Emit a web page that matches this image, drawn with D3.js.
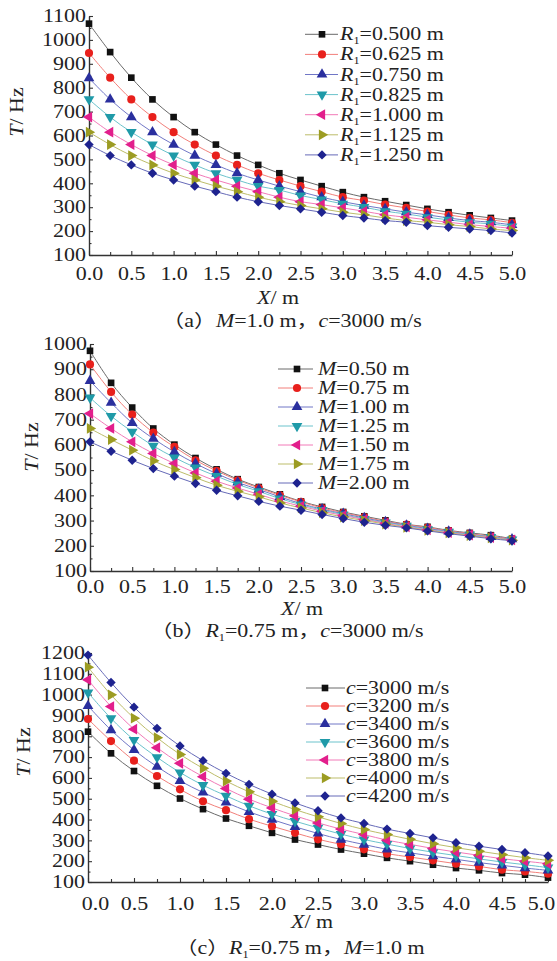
<!DOCTYPE html>
<html>
<head>
<meta charset="utf-8">
<script src="https://cdn.jsdelivr.net/npm/d3@7"></script>
<style>
  body { margin: 0; background: #fff; }
  svg { display: block; }
  text { font-family: "Liberation Serif", "Times New Roman", "Noto Sans CJK SC", serif; fill: #222; }
</style>
</head>
<body>
<div id="chart"></div>
<script>
// distance along the pipe (m), same for all three panels
const xValues = [0, 0.25, 0.5, 0.75, 1, 1.25, 1.5, 1.75, 2, 2.25, 2.5, 2.75, 3, 3.25, 3.5, 3.75, 4, 4.25, 4.5, 4.75, 5];
const xTicks = [0, 0.5, 1, 1.5, 2, 2.5, 3, 3.5, 4, 4.5, 5];
const xMinorTicks = [0.25, 0.75, 1.25, 1.75, 2.25, 2.75, 3.25, 3.75, 4.25, 4.75];

// (a) M=1.0 m, c=3000 m/s, varying R1
const labelsA = ['0.500', '0.625', '0.750', '0.825', '1.000', '1.125', '1.250'];
const valuesA = [
  [1068, 949, 842, 751, 677, 614, 562, 516, 477, 442, 414, 388, 363, 342, 325, 309, 293, 279, 266, 255, 244],
  [945, 842, 751, 677, 614, 562, 516, 477, 442, 414, 388, 365, 342, 328, 311, 297, 282, 268, 255, 247, 235],
  [840, 751, 677, 614, 562, 516, 477, 442, 414, 388, 365, 342, 323, 307, 293, 279, 268, 255, 244, 237, 226],
  [751, 677, 614, 562, 516, 477, 442, 414, 388, 372, 349, 332, 314, 300, 283, 272, 258, 247, 237, 230, 219],
  [677, 614, 562, 516, 477, 442, 414, 388, 365, 342, 323, 311, 297, 283, 268, 258, 247, 237, 227, 219, 212],
  [614, 562, 516, 477, 442, 414, 388, 365, 342, 323, 307, 293, 279, 268, 255, 244, 237, 227, 219, 209, 202],
  [562, 516, 477, 442, 414, 388, 365, 342, 323, 307, 293, 279, 265, 255, 244, 237, 223, 216, 209, 202, 192]
];
const yTicksA = [100, 200, 300, 400, 500, 600, 700, 800, 900, 1000, 1100];

// (b) R1=0.75 m, c=3000 m/s, varying M
const labelsB = ['0.50', '0.75', '1.00', '1.25', '1.50', '1.75', '2.00'];
const valuesB = [
  [973, 846, 748, 665, 601, 548, 503, 464, 433, 404, 376, 354, 334, 317, 301, 285, 275, 261, 251, 242, 228],
  [919, 810, 720, 649, 592, 539, 497, 460, 429, 400, 374, 350, 331, 314, 297, 284, 272, 259, 248, 238, 227],
  [854, 767, 687, 625, 572, 526, 486, 451, 423, 394, 367, 345, 327, 310, 294, 281, 268, 257, 245, 235, 226],
  [787, 714, 652, 596, 550, 510, 476, 443, 416, 387, 363, 341, 324, 306, 292, 279, 265, 255, 244, 234, 224],
  [724, 665, 612, 566, 526, 489, 456, 429, 404, 378, 357, 337, 320, 304, 289, 275, 263, 252, 242, 232, 223],
  [665, 621, 579, 537, 502, 470, 440, 416, 394, 370, 350, 331, 314, 300, 286, 273, 261, 251, 240, 231, 222],
  [612, 575, 539, 506, 476, 447, 420, 398, 376, 357, 341, 324, 308, 293, 281, 271, 259, 248, 238, 228, 220]
];
const yTicksB = [100, 200, 300, 400, 500, 600, 700, 800, 900, 1000];

// (c) R1=0.75 m, M=1.0 m, varying c
const labelsC = ['3000', '3200', '3400', '3600', '3800', '4000', '4200'];
const valuesC = [
  [822, 718, 633, 562, 501, 450, 405, 370, 336, 304, 280, 256, 236, 216, 200, 183, 167, 156, 143, 135, 121],
  [883, 777, 683, 609, 545, 488, 445, 402, 368, 336, 305, 281, 257, 236, 220, 204, 188, 175, 159, 151, 140],
  [946, 830, 734, 654, 586, 530, 482, 437, 400, 365, 333, 304, 280, 257, 240, 224, 209, 193, 180, 167, 156],
  [1010, 886, 782, 699, 626, 565, 514, 466, 426, 392, 360, 330, 304, 282, 261, 243, 227, 211, 196, 183, 169],
  [1071, 943, 834, 745, 670, 606, 549, 498, 456, 418, 384, 354, 328, 301, 281, 261, 244, 228, 212, 200, 188],
  [1132, 999, 887, 793, 713, 646, 585, 533, 488, 448, 413, 381, 352, 328, 305, 284, 265, 248, 232, 217, 204],
  [1190, 1058, 940, 838, 753, 683, 622, 569, 522, 480, 442, 408, 381, 354, 333, 312, 289, 272, 256, 241, 225]
];
const yTicksC = [100, 200, 300, 400, 500, 600, 700, 800, 900, 1000, 1100, 1200];

const markerColors = ['#111111', '#e8201c', '#2a2f9e', '#1f9aa8', '#e21f8c', '#9c9c22', '#1e238f'];
const lineColors = ['#6a6a6a', '#f27f7a', '#7076c6', '#6cc3cc', '#f27ab8', '#bdbd6a', '#666ab8'];
const markerKinds = ['square', 'circle', 'up', 'down', 'left', 'right', 'diamond'];

const SX = 1.22; // the scanned figure's text is stretched sideways
const FONT = 18;

const svg = d3.select('#chart').append('svg')
  .attr('width', 557)
  .attr('height', 961);

function markerPath(kind) {
  if (kind === 'square') return d3.symbol(d3.symbolSquare, 44)();
  if (kind === 'circle') return d3.symbol(d3.symbolCircle, 52)();
  if (kind === 'diamond') return d3.symbol(d3.symbolSquare, 44)();
  return d3.symbol(d3.symbolTriangle, 50)();
}
function markerRotate(kind) {
  return { down: 180, left: -90, right: 90, diamond: 45 }[kind] || 0;
}

// text stretched horizontally like in the original
function stretchedText(parent, x, y, anchor, rotate) {
  const g = parent.append('g')
    .attr('transform', `translate(${x},${y})` + (rotate ? ` rotate(${rotate})` : '') + ` scale(${SX},1)`);
  return g.append('text')
    .attr('text-anchor', anchor || 'start')
    .attr('font-size', FONT);
}

function drawPanel(cfg, values, labels, yTicks) {
  const x = d3.scaleLinear().domain([0, 5]).range([cfg.xLeft, cfg.xRight]);
  const y = d3.scaleLinear().domain([100, yTicks[yTicks.length - 1]]).range([cfg.yBottom, cfg.yTop]);

  const yMinor = yTicks.slice(0, -1).map((d, i) => (d + yTicks[i + 1]) / 2);

  // minor ticks
  svg.append('g')
    .attr('transform', `translate(${cfg.xLeft},0)`)
    .call(d3.axisLeft(y).tickValues(yMinor).tickSize(-2.5).tickSizeOuter(0).tickFormat(''))
    .call(g => g.select('.domain').remove())
    .selectAll('line').attr('stroke', '#333').attr('stroke-width', 1.1);
  svg.append('g')
    .attr('transform', `translate(0,${cfg.yBottom})`)
    .call(d3.axisBottom(x).tickValues(xMinorTicks).tickSize(-3).tickSizeOuter(0).tickFormat(''))
    .call(g => g.select('.domain').remove())
    .selectAll('line').attr('stroke', '#333').attr('stroke-width', 1.1);

  const yAxisG = svg.append('g')
    .attr('transform', `translate(${cfg.xLeft},0)`)
    .call(d3.axisLeft(y).tickValues(yTicks).tickSize(-4).tickSizeOuter(0).tickPadding(3).tickFormat(d3.format('d')));
  const xAxisG = svg.append('g')
    .attr('transform', `translate(0,${cfg.yBottom})`)
    .call(d3.axisBottom(x).tickValues(xTicks).tickSize(-4).tickSizeOuter(0).tickPadding(cfg.xLabelPad).tickFormat(d3.format('.1f')));

  [yAxisG, xAxisG].forEach(g => {
    g.attr('font-family', null).attr('font-size', FONT);
    g.select('.domain').attr('stroke', '#333').attr('stroke-width', 1.4);
    g.selectAll('.tick line').attr('stroke', '#333').attr('stroke-width', 1.1);
    g.selectAll('.tick text').attr('fill', '#222').each(function () {
      const t = d3.select(this);
      const tx = +t.attr('x') || 0;
      t.attr('x', tx / SX).attr('transform', `scale(${SX},1)`);
    });
  });
  // nudge the end labels the way the original does
  xAxisG.selectAll('.tick text')
    .attr('dx', d => (d === 0 ? cfg.firstShift || 0 : d === 5 ? cfg.lastShift || 0 : 0) / SX);

  // series lines then markers
  const line = d3.line()
    .x((d, i) => x(xValues[i]))
    .y(d => y(d))
    .curve(d3.curveCatmullRom);

  values.forEach((vals, s) => {
    svg.append('path')
      .attr('d', line(vals))
      .attr('fill', 'none')
      .attr('stroke', lineColors[s])
      .attr('stroke-width', 1);
  });
  values.forEach((vals, s) => {
    svg.append('g').selectAll('path')
      .data(vals)
      .join('path')
      .attr('d', markerPath(markerKinds[s]))
      .attr('transform', (d, i) => `translate(${x(xValues[i])},${y(d)}) rotate(${markerRotate(markerKinds[s])})`)
      .attr('fill', markerColors[s]);
  });

  // legend
  const lg = cfg.legend;
  labels.forEach((lab, s) => {
    const ly = lg.y0 + s * lg.dy;
    svg.append('line')
      .attr('x1', lg.x0).attr('x2', lg.x1)
      .attr('y1', ly).attr('y2', ly)
      .attr('stroke', lineColors[s]).attr('stroke-width', 1);
    svg.append('path')
      .attr('d', markerPath(markerKinds[s]))
      .attr('transform', `translate(${lg.xm},${ly}) rotate(${markerRotate(markerKinds[s])})`)
      .attr('fill', markerColors[s]);
    const t = stretchedText(svg, lg.xt, ly + 6, 'start');
    cfg.legendText(t, lab);
  });

  // axis titles
  const yt = stretchedText(svg, cfg.yTitle[0] + 6, cfg.yTitle[1], 'middle', -90);
  yt.append('tspan').attr('font-style', 'italic').text('T');
  yt.append('tspan').text('/ Hz');

  const xt = stretchedText(svg, cfg.xTitle[0], cfg.xTitle[1], 'middle');
  xt.append('tspan').attr('font-style', 'italic').text('X');
  xt.append('tspan').text('/ m');

  const cap = stretchedText(svg, cfg.caption[0], cfg.caption[1], 'middle');
  cfg.captionText(cap);
}

function addR1(t) {
  t.append('tspan').attr('font-style', 'italic').text('R');
  t.append('tspan').attr('font-size', 10).attr('dy', 4).text('1');
  return t.append('tspan').attr('dy', -4);
}

drawPanel({
  xLeft: 89, xRight: 512, yTop: 16, yBottom: 255, xLabelPad: 12,
  yTitle: [17, 112], xTitle: [278, 304], caption: [292, 327],
  legend: { x0: 305, x1: 338, xm: 322, xt: 340, y0: 34.3, dy: 20.1 },
  legendText: (t, lab) => addR1(t).text(`=${lab} m`),
  captionText: t => {
    t.append('tspan').text('（a）');
    t.append('tspan').attr('font-style', 'italic').text('M');
    t.append('tspan').text('=1.0 m，');
    t.append('tspan').attr('font-style', 'italic').text('c');
    t.append('tspan').text('=3000 m/s');
  }
}, valuesA, labelsA, yTicksA);

drawPanel({
  xLeft: 90, xRight: 512, yTop: 344, yBottom: 571, xLabelPad: 9,
  yTitle: [32, 447], xTitle: [302, 615], caption: [287, 637],
  legend: { x0: 278, x1: 313, xm: 297, xt: 318, y0: 369, dy: 19 },
  legendText: (t, lab) => {
    t.append('tspan').attr('font-style', 'italic').text('M');
    t.append('tspan').text(`=${lab} m`);
  },
  captionText: t => {
    t.append('tspan').text('（b）');
    addR1(t).text('=0.75 m，');
    t.append('tspan').attr('font-style', 'italic').text('c');
    t.append('tspan').text('=3000 m/s');
  }
}, valuesB, labelsB, yTicksB);

drawPanel({
  xLeft: 88, xRight: 548, yTop: 653, yBottom: 882, xLabelPad: 15,
  firstShift: 7, lastShift: -7,
  yTitle: [24, 752], xTitle: [312, 928], caption: [300, 954],
  legend: { x0: 306, x1: 345, xm: 325, xt: 346, y0: 688, dy: 18 },
  legendText: (t, lab) => {
    t.append('tspan').attr('font-style', 'italic').text('c');
    t.append('tspan').text(`=${lab} m/s`);
  },
  captionText: t => {
    t.append('tspan').text('（c）');
    addR1(t).text('=0.75 m，');
    t.append('tspan').attr('font-style', 'italic').text('M');
    t.append('tspan').text('=1.0 m');
  }
}, valuesC, labelsC, yTicksC);
</script>
</body>
</html>
